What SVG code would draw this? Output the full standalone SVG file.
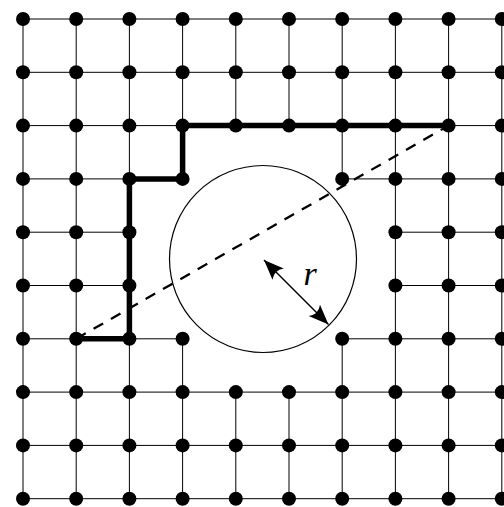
<svg xmlns="http://www.w3.org/2000/svg" width="504" height="507" viewBox="0 0 504 507">
<style>
.grid{fill:none;stroke:#000;stroke-width:1}
.route{fill:none;stroke:#000;stroke-width:5.5;stroke-linejoin:miter;stroke-linecap:square}
.sight{fill:none;stroke:#000;stroke-width:2.3;stroke-dasharray:11 9}
.obst{fill:none;stroke:#000;stroke-width:1.2}
.arr{fill:none;stroke:#000;stroke-width:1.4}
.dot{fill:#000}
.lbl{font-family:"Liberation Serif","Times New Roman",serif;font-style:italic;font-size:34px;fill:#000}
</style>
<defs>
<marker id="ah" markerUnits="userSpaceOnUse" markerWidth="26" markerHeight="22" viewBox="-22 -11 24 22" refX="0" refY="0" orient="auto-start-reverse">
<path d="M0,0 L-20,-8 Q-14,0 -20,8 Z" fill="#000"/>
</marker>
</defs>
<rect width="504" height="507" fill="#fff"/>
<g id="connectors">
<path class="grid" d="M23 19H501.8M23 72.3H501.8M23 125.6H501.8M23 392.1H501.8M23 445.4H501.8M23 498.7H501.8
M23 178.9H182.6M342.2 178.9H501.8
M23 232.2H129.4M395.4 232.2H501.8
M23 285.5H129.4M395.4 285.5H501.8
M23 338.8H182.6M342.2 338.8H501.8
M23 19V498.7M76.2 19V498.7M129.4 19V498.7M395.4 19V498.7M448.6 19V498.7M501.8 19V498.7
M182.6 19V178.9M182.6 338.8V498.7
M235.8 19V125.6M235.8 392.1V498.7
M289 19V125.6M289 392.1V498.7
M342.2 19V178.9M342.2 338.8V498.7"/>
<path id="route" class="route" d="M76.2 338.8H129.4V178.9H182.6V125.6H448.6"/>
<path id="sightline" class="sight" d="M76.2 338.8L448.6 125.6"/>
</g>
<g id="obstacle">
<circle class="obst" cx="263" cy="259" r="93.5"/>
<line class="arr" x1="264" y1="260" x2="328.5" y2="324.5" marker-start="url(#ah)" marker-end="url(#ah)"/>
<text class="lbl" x="310" y="285" text-anchor="middle">r</text>
</g>
<g id="nodes">
<g id="n0-0"><circle class="dot" cx="23" cy="19" r="7"/></g>
<g id="n1-0"><circle class="dot" cx="76.2" cy="19" r="7"/></g>
<g id="n2-0"><circle class="dot" cx="129.4" cy="19" r="7"/></g>
<g id="n3-0"><circle class="dot" cx="182.6" cy="19" r="7"/></g>
<g id="n4-0"><circle class="dot" cx="235.8" cy="19" r="7"/></g>
<g id="n5-0"><circle class="dot" cx="289" cy="19" r="7"/></g>
<g id="n6-0"><circle class="dot" cx="342.2" cy="19" r="7"/></g>
<g id="n7-0"><circle class="dot" cx="395.4" cy="19" r="7"/></g>
<g id="n8-0"><circle class="dot" cx="448.6" cy="19" r="7"/></g>
<g id="n9-0"><circle class="dot" cx="501.8" cy="19" r="7"/></g>
<g id="n0-1"><circle class="dot" cx="23" cy="72.3" r="7"/></g>
<g id="n1-1"><circle class="dot" cx="76.2" cy="72.3" r="7"/></g>
<g id="n2-1"><circle class="dot" cx="129.4" cy="72.3" r="7"/></g>
<g id="n3-1"><circle class="dot" cx="182.6" cy="72.3" r="7"/></g>
<g id="n4-1"><circle class="dot" cx="235.8" cy="72.3" r="7"/></g>
<g id="n5-1"><circle class="dot" cx="289" cy="72.3" r="7"/></g>
<g id="n6-1"><circle class="dot" cx="342.2" cy="72.3" r="7"/></g>
<g id="n7-1"><circle class="dot" cx="395.4" cy="72.3" r="7"/></g>
<g id="n8-1"><circle class="dot" cx="448.6" cy="72.3" r="7"/></g>
<g id="n9-1"><circle class="dot" cx="501.8" cy="72.3" r="7"/></g>
<g id="n0-2"><circle class="dot" cx="23" cy="125.6" r="7"/></g>
<g id="n1-2"><circle class="dot" cx="76.2" cy="125.6" r="7"/></g>
<g id="n2-2"><circle class="dot" cx="129.4" cy="125.6" r="7"/></g>
<g id="n3-2"><circle class="dot" cx="182.6" cy="125.6" r="7"/></g>
<g id="n4-2"><circle class="dot" cx="235.8" cy="125.6" r="7"/></g>
<g id="n5-2"><circle class="dot" cx="289" cy="125.6" r="7"/></g>
<g id="n6-2"><circle class="dot" cx="342.2" cy="125.6" r="7"/></g>
<g id="n7-2"><circle class="dot" cx="395.4" cy="125.6" r="7"/></g>
<g id="n8-2"><circle class="dot" cx="448.6" cy="125.6" r="7"/></g>
<g id="n9-2"><circle class="dot" cx="501.8" cy="125.6" r="7"/></g>
<g id="n0-3"><circle class="dot" cx="23" cy="178.9" r="7"/></g>
<g id="n1-3"><circle class="dot" cx="76.2" cy="178.9" r="7"/></g>
<g id="n2-3"><circle class="dot" cx="129.4" cy="178.9" r="7"/></g>
<g id="n3-3"><circle class="dot" cx="182.6" cy="178.9" r="7"/></g>
<g id="n6-3"><circle class="dot" cx="342.2" cy="178.9" r="7"/></g>
<g id="n7-3"><circle class="dot" cx="395.4" cy="178.9" r="7"/></g>
<g id="n8-3"><circle class="dot" cx="448.6" cy="178.9" r="7"/></g>
<g id="n9-3"><circle class="dot" cx="501.8" cy="178.9" r="7"/></g>
<g id="n0-4"><circle class="dot" cx="23" cy="232.2" r="7"/></g>
<g id="n1-4"><circle class="dot" cx="76.2" cy="232.2" r="7"/></g>
<g id="n2-4"><circle class="dot" cx="129.4" cy="232.2" r="7"/></g>
<g id="n7-4"><circle class="dot" cx="395.4" cy="232.2" r="7"/></g>
<g id="n8-4"><circle class="dot" cx="448.6" cy="232.2" r="7"/></g>
<g id="n9-4"><circle class="dot" cx="501.8" cy="232.2" r="7"/></g>
<g id="n0-5"><circle class="dot" cx="23" cy="285.5" r="7"/></g>
<g id="n1-5"><circle class="dot" cx="76.2" cy="285.5" r="7"/></g>
<g id="n2-5"><circle class="dot" cx="129.4" cy="285.5" r="7"/></g>
<g id="n7-5"><circle class="dot" cx="395.4" cy="285.5" r="7"/></g>
<g id="n8-5"><circle class="dot" cx="448.6" cy="285.5" r="7"/></g>
<g id="n9-5"><circle class="dot" cx="501.8" cy="285.5" r="7"/></g>
<g id="n0-6"><circle class="dot" cx="23" cy="338.8" r="7"/></g>
<g id="n1-6"><circle class="dot" cx="76.2" cy="338.8" r="7"/></g>
<g id="n2-6"><circle class="dot" cx="129.4" cy="338.8" r="7"/></g>
<g id="n3-6"><circle class="dot" cx="182.6" cy="338.8" r="7"/></g>
<g id="n6-6"><circle class="dot" cx="342.2" cy="338.8" r="7"/></g>
<g id="n7-6"><circle class="dot" cx="395.4" cy="338.8" r="7"/></g>
<g id="n8-6"><circle class="dot" cx="448.6" cy="338.8" r="7"/></g>
<g id="n9-6"><circle class="dot" cx="501.8" cy="338.8" r="7"/></g>
<g id="n0-7"><circle class="dot" cx="23" cy="392.1" r="7"/></g>
<g id="n1-7"><circle class="dot" cx="76.2" cy="392.1" r="7"/></g>
<g id="n2-7"><circle class="dot" cx="129.4" cy="392.1" r="7"/></g>
<g id="n3-7"><circle class="dot" cx="182.6" cy="392.1" r="7"/></g>
<g id="n4-7"><circle class="dot" cx="235.8" cy="392.1" r="7"/></g>
<g id="n5-7"><circle class="dot" cx="289" cy="392.1" r="7"/></g>
<g id="n6-7"><circle class="dot" cx="342.2" cy="392.1" r="7"/></g>
<g id="n7-7"><circle class="dot" cx="395.4" cy="392.1" r="7"/></g>
<g id="n8-7"><circle class="dot" cx="448.6" cy="392.1" r="7"/></g>
<g id="n9-7"><circle class="dot" cx="501.8" cy="392.1" r="7"/></g>
<g id="n0-8"><circle class="dot" cx="23" cy="445.4" r="7"/></g>
<g id="n1-8"><circle class="dot" cx="76.2" cy="445.4" r="7"/></g>
<g id="n2-8"><circle class="dot" cx="129.4" cy="445.4" r="7"/></g>
<g id="n3-8"><circle class="dot" cx="182.6" cy="445.4" r="7"/></g>
<g id="n4-8"><circle class="dot" cx="235.8" cy="445.4" r="7"/></g>
<g id="n5-8"><circle class="dot" cx="289" cy="445.4" r="7"/></g>
<g id="n6-8"><circle class="dot" cx="342.2" cy="445.4" r="7"/></g>
<g id="n7-8"><circle class="dot" cx="395.4" cy="445.4" r="7"/></g>
<g id="n8-8"><circle class="dot" cx="448.6" cy="445.4" r="7"/></g>
<g id="n9-8"><circle class="dot" cx="501.8" cy="445.4" r="7"/></g>
<g id="n0-9"><circle class="dot" cx="23" cy="498.7" r="7"/></g>
<g id="n1-9"><circle class="dot" cx="76.2" cy="498.7" r="7"/></g>
<g id="n2-9"><circle class="dot" cx="129.4" cy="498.7" r="7"/></g>
<g id="n3-9"><circle class="dot" cx="182.6" cy="498.7" r="7"/></g>
<g id="n4-9"><circle class="dot" cx="235.8" cy="498.7" r="7"/></g>
<g id="n5-9"><circle class="dot" cx="289" cy="498.7" r="7"/></g>
<g id="n6-9"><circle class="dot" cx="342.2" cy="498.7" r="7"/></g>
<g id="n7-9"><circle class="dot" cx="395.4" cy="498.7" r="7"/></g>
<g id="n8-9"><circle class="dot" cx="448.6" cy="498.7" r="7"/></g>
<g id="n9-9"><circle class="dot" cx="501.8" cy="498.7" r="7"/></g>
</g>
</svg>
